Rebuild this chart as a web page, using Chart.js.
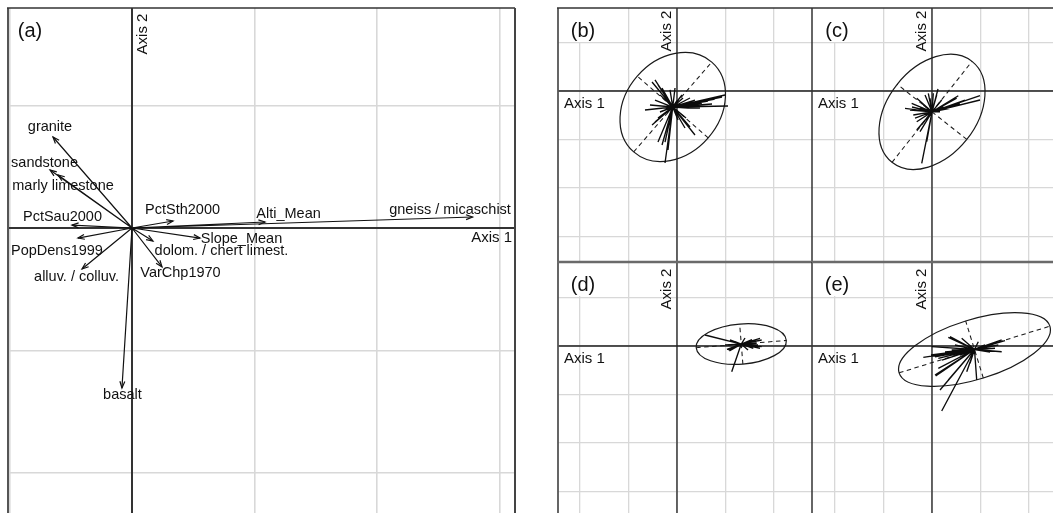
<!DOCTYPE html>
<html><head><meta charset="utf-8">
<script src="https://cdn.jsdelivr.net/npm/chart.js@4.4.1/dist/chart.umd.min.js"></script>
<style>
html,body{margin:0;padding:0;background:#fff;}
body{width:1053px;height:513px;position:relative;overflow:hidden;}
canvas{position:absolute;}
</style></head><body>
<canvas id="pa" width="525" height="513" style="left:0px;top:0px"></canvas>
<canvas id="pb" width="262" height="262" style="left:550px;top:0px"></canvas>
<canvas id="pc" width="249" height="262" style="left:804px;top:0px"></canvas>
<canvas id="pd" width="262" height="259" style="left:550px;top:254px"></canvas>
<canvas id="pe" width="249" height="259" style="left:804px;top:254px"></canvas>
<script>
// ---------- Panel (a): correlation circle arrows ----------
const arrowLabels = ["gneiss / micaschist","Alti_Mean","PctSth2000","Slope_Mean","dolom. / chert limest.","VarChp1970","basalt","alluv. / colluv.","PopDens1999","PctSau2000","marly limestone","sandstone","granite"];
const arrowX = [2.78, 1.086, 0.335, 0.555, 0.171, 0.245, -0.082, -0.408, -0.441, -0.49, -0.604, -0.669, -0.645];
const arrowY = [0.09, 0.049, 0.057, -0.082, -0.106, -0.318, -1.306, -0.335, -0.082, 0.024, 0.433, 0.473, 0.743];

// ---------- Panels (b)-(e): class stars ----------
const panelNames = ["(b)", "(c)", "(d)", "(e)"];
const classCX = [-0.088, 0.0, 1.325, 0.876];
const classCY = [-0.33, -0.43, 0.04, -0.072];
const ellipseA = [1.227, 1.328, 0.932, 1.627];
const ellipseB = [0.969, 0.916, 0.414, 0.616];
const ellipseAngle = [49, 51.6, 4.6, 17.2];

const starBX = [1.052,0.990,0.928,0.784,0.639,0.515,0.433,0.371,0.268,0.227,-0.247,-0.186,-0.309,-0.392,-0.247,0.371,0.268,0.165,-0.660,-0.515,-0.454,-0.392,-0.309,-0.247,0.124,0.103,-0.515,-0.454,-0.392,-0.454,-0.557,-0.351,0.021,-0.144,0.474,0.722,-0.144,-0.041,-0.350,0.186,-0.2,0.0,0.05,-0.2,0.1,-0.15];
const starBY = [-0.309,-0.082,-0.124,-0.165,-0.206,-0.247,-0.268,-0.186,-0.144,-0.351,-1.485,-1.216,-1.113,-1.052,-1.052,-0.907,-0.742,-0.763,-0.392,0.186,0.227,0.124,0.062,-0.082,-0.144,-0.082,-0.701,-0.639,-0.557,-0.186,-0.289,-0.433,-0.598,-0.701,-0.351,-0.268,0.021,0.062,-0.080,-0.557,-0.15,-0.2,-0.45,-0.45,-0.3,-0.25];

const starCX = [0.990,0.990,0.542,0.509,0.439,0.371,0.303,0.200,0.097,0.027,0.124,-0.076,-0.144,-0.315,-0.419,-0.557,-0.454,-0.386,-0.315,-0.282,-0.247,-0.315,-0.212,-0.109,0.165,0.233,0.371,-0.179,-0.247,-0.041,0.577,0.680,-0.412,-0.350];
const starCY = [-0.097,-0.186,-0.097,-0.150,-0.186,-0.221,-0.254,-0.186,-0.082,-0.047,0.041,-0.047,-0.082,-0.150,-0.254,-0.357,-0.392,-0.495,-0.633,-0.769,-0.839,-0.804,-1.491,-1.045,-0.427,-0.324,-0.357,-0.289,-0.357,-0.150,-0.268,-0.186,-0.330,-0.557];

const starDX = [0.577,1.128,1.711,1.746,1.746,1.711,1.643,1.093,1.058,1.155,1.196,1.505,1.573,1.402,1.464,0.990,1.670,1.546,1.03,1.08];
const starDY = [0.227,-0.530,0.159,0.124,-0.014,-0.047,0.056,0.124,-0.082,-0.041,0.089,0.089,-0.047,0.165,-0.082,0.021,0.021,0.134,-0.07,-0.10];

const starEX = [0.200,0.165,0.076,-0.179,-0.006,-0.021,0.062,0.130,0.130,0.062,0.371,0.336,0.268,0.922,0.955,1.437,1.505,1.437,1.367,1.299,0.612,0.577,0.406,0.784,0.716,0.336,0.474,1.093,1.196,0.206,0.268];
const starEY = [-1.340,-0.907,-0.619,-0.233,-0.014,-0.186,-0.221,-0.254,-0.460,-0.598,0.192,0.179,-0.392,-0.701,0.089,0.124,0.109,-0.118,0.021,-0.047,0.159,-0.186,-0.082,-0.357,-0.530,-0.701,0.021,0.021,-0.124,-0.289,-0.124];

const starXs = [starBX, starCX, starDX, starEX];
const starYs = [starBY, starCY, starDY, starEY];

// ---------- layout / style ----------
const FONT = '"Liberation Sans", Arial, Helvetica, sans-serif';
const INK = '#111';
// label offsets in px relative to arrow tip (layout only)
const labelOffsetPx = {
  "gneiss / micaschist":[-22.5,-7], "Alti_Mean":[23.5,-8], "PctSth2000":[9.5,-11],
  "Slope_Mean":[41.5,0.5], "dolom. / chert limest.":[68.5,10], "VarChp1970":[18.5,6],
  "basalt":[0.5,7.5], "alluv. / colluv.":[-5.5,8], "PopDens1999":[-21,13],
  "PctSau2000":[-9.5,-8.5], "marly limestone":[5,11], "sandstone":[-5.5,-7.5], "granite":[-3,-9.5]
};

function segData(cx, cy, xs, ys) {
  const d = [];
  xs.forEach((v, i) => { d.push({x: cx, y: cy}, {x: v, y: ys[i]}, {x: NaN, y: NaN}); });
  return d;
}

function makeScales(xr, yr, xt, yt, gw) {
  const mk = (r, t) => ({
    type: 'linear', min: r[0], max: r[1],
    afterBuildTicks: s => { s.ticks = t.map(v => ({value: v})); },
    ticks: {display: false}, border: {display: false},
    grid: {color: '#d8d8d8', lineWidth: gw, drawTicks: false}
  });
  return {x: mk(xr, xt), y: mk(yr, yt)};
}

function drawText(ctx, txt, x, y, font, align, rot) {
  ctx.save();
  ctx.font = font; ctx.fillStyle = INK; ctx.textAlign = align || 'center'; ctx.textBaseline = 'middle';
  ctx.translate(x, y);
  if (rot) ctx.rotate(rot);
  ctx.fillText(txt, 0, 0);
  ctx.restore();
}

function decoPlugin(cfg) {
  return {
    id: 'deco' + cfg.key,
    beforeDatasetsDraw(chart) {
      const {ctx, chartArea: ca, scales: {x, y}} = chart;
      const x0 = x.getPixelForValue(0), y0 = y.getPixelForValue(0);
      ctx.save();
      if (cfg.box) { ctx.fillStyle = '#fff'; ctx.fillRect(ca.left, ca.top, cfg.box[0], cfg.box[1]); }
      ctx.strokeStyle = cfg.axisColor; ctx.lineWidth = cfg.axisWidth;
      ctx.beginPath();
      ctx.moveTo(x0, ca.top); ctx.lineTo(x0, ca.bottom);
      ctx.moveTo(ca.left, y0); ctx.lineTo(ca.right, y0);
      ctx.stroke();
      cfg.borders.forEach(b => {
        ctx.strokeStyle = b.color; ctx.lineWidth = b.width;
        ctx.beginPath();
        if (b.side === 'left') { ctx.moveTo(ca.left, ca.top); ctx.lineTo(ca.left, ca.bottom); }
        if (b.side === 'right') { ctx.moveTo(ca.right, ca.top); ctx.lineTo(ca.right, ca.bottom); }
        if (b.side === 'top') { ctx.moveTo(ca.left - (b.ext||0), ca.top); ctx.lineTo(ca.right, ca.top); }
        ctx.stroke();
      });
      if (cfg.ell !== undefined) {
        const i = cfg.ell;
        const cx = classCX[i], cy = classCY[i], a = ellipseA[i], b = ellipseB[i];
        const th = ellipseAngle[i] * Math.PI / 180;
        const px = x.getPixelForValue(cx), py = y.getPixelForValue(cy);
        const rx = Math.abs(x.getPixelForValue(cx + a) - px);
        const ry = Math.abs(y.getPixelForValue(cy + b) - py);
        ctx.strokeStyle = '#1a1a1a'; ctx.lineWidth = 1.2;
        ctx.beginPath(); ctx.ellipse(px, py, rx, ry, -th, 0, Math.PI * 2); ctx.stroke();
        ctx.setLineDash([4.5, 3.5]); ctx.lineWidth = 1.05;
        ctx.beginPath();
        ctx.moveTo(x.getPixelForValue(cx - a*Math.cos(th)), y.getPixelForValue(cy - a*Math.sin(th)));
        ctx.lineTo(x.getPixelForValue(cx + a*Math.cos(th)), y.getPixelForValue(cy + a*Math.sin(th)));
        ctx.moveTo(x.getPixelForValue(cx + b*Math.sin(th)), y.getPixelForValue(cy - b*Math.cos(th)));
        ctx.lineTo(x.getPixelForValue(cx - b*Math.sin(th)), y.getPixelForValue(cy + b*Math.cos(th)));
        ctx.stroke();
        ctx.setLineDash([]);
      }
      ctx.restore();
    },
    afterDatasetsDraw(chart) {
      const {ctx, chartArea: ca, scales: {x, y}} = chart;
      const x0 = x.getPixelForValue(0), y0 = y.getPixelForValue(0);
      if (cfg.arrows) {
        ctx.save();
        ctx.strokeStyle = '#111'; ctx.lineWidth = 1.2;
        arrowX.forEach((vx, i) => {
          const tx = x.getPixelForValue(vx), ty = y.getPixelForValue(arrowY[i]);
          const ang = Math.atan2(ty - y0, tx - x0);
          const L = 7, w = 0.36;
          ctx.beginPath();
          ctx.moveTo(tx - L*Math.cos(ang - w), ty - L*Math.sin(ang - w));
          ctx.lineTo(tx, ty);
          ctx.lineTo(tx - L*Math.cos(ang + w), ty - L*Math.sin(ang + w));
          ctx.stroke();
          const off = labelOffsetPx[arrowLabels[i]];
          drawText(ctx, arrowLabels[i], tx + off[0], ty + off[1], '14.5px ' + FONT);
        });
        ctx.restore();
      }
      drawText(ctx, cfg.title, ca.left + cfg.titleOff[0], ca.top + cfg.titleOff[1], '20px ' + FONT);
      if (cfg.ax1Right) drawText(ctx, 'Axis 1', ca.right - 3, y0 + cfg.ax1dy, '15px ' + FONT, 'right');
      else drawText(ctx, 'Axis 1', ca.left + 6, y0 + cfg.ax1dy, '15px ' + FONT, 'left');
      drawText(ctx, 'Axis 2', x0 + cfg.ax2dx, ca.top + cfg.ax2dy, '15px ' + FONT, 'center', -Math.PI/2);
    }
  };
}

const common = {
  responsive: false, animation: false, events: [],
  plugins: {legend: {display: false}, tooltip: {enabled: false}}
};

// Panel (a)
new Chart(document.getElementById('pa'), {
  type: 'scatter',
  data: {datasets: [{
    data: segData(0, 0, arrowX, arrowY),
    showLine: true, spanGaps: false, borderColor: '#111', borderWidth: 1.2, pointRadius: 0
  }]},
  options: Object.assign({}, common, {
    layout: {padding: {left: 8, top: 8, right: 10, bottom: 0}},
    scales: makeScales([-1.0122, 3.1265], [-2.3265, 1.7959], [-1, 0, 1, 2, 3], [1, 0, -1, -2], 1.6)
  }),
  plugins: [decoPlugin({key: 'a', title: '(a)', titleOff: [22, 23.5], axisColor: '#333', axisWidth: 2,
    borders: [{side: 'left', color: '#555', width: 2}, {side: 'top', color: '#333', width: 1.5, ext: 1}, {side: 'right', color: '#444', width: 2}],
    arrows: true, ax1Right: true, ax1dy: 9.5, ax2dx: 11, ax2dy: 26})]
});

// Panels (b)-(e)
const subCfg = [
  {id: 'pb', xr: [-2.4536, 2.7835], yr: [-3.5258, 1.7113], borders: [{side:'left', color:'#555', width:1.8}, {side:'top', color:'#333', width:1.5, ext:1}], ax2dy: 23},
  {id: 'pc', xr: [-2.4742, 2.4948], yr: [-3.5258, 1.7113], borders: [{side:'left', color:'#333', width:1.5}, {side:'top', color:'#333', width:1.5}], ax2dy: 23},
  {id: 'pd', xr: [-2.4536, 2.7835], yr: [-3.4433, 1.7320], borders: [{side:'left', color:'#555', width:1.8}, {side:'top', color:'#6a6a6a', width:2.6, ext:1}], ax2dy: 27},
  {id: 'pe', xr: [-2.4742, 2.4948], yr: [-3.4433, 1.7320], borders: [{side:'left', color:'#333', width:1.5}, {side:'top', color:'#6a6a6a', width:2.6}], ax2dy: 27}
];
subCfg.forEach((c, i) => {
  new Chart(document.getElementById(c.id), {
    type: 'scatter',
    data: {datasets: [{
      data: segData(classCX[i], classCY[i], starXs[i], starYs[i]),
      showLine: true, spanGaps: false, borderColor: '#0c0c0c', borderWidth: 1.35, pointRadius: 0
    }]},
    options: Object.assign({}, common, {
      layout: {padding: {left: 8, top: 8, right: 0, bottom: 0}},
      scales: makeScales(c.xr, c.yr, [-2, -1, 0, 1, 2], [1, 0, -1, -2, -3], 1.3)
    }),
    plugins: [decoPlugin({key: c.id, title: panelNames[i], titleOff: [25, 23], box: [60, 34],
      axisColor: '#1e1e1e', axisWidth: 1.3, borders: c.borders, ell: i,
      ax1Right: false, ax1dy: 12.5, ax2dx: -10, ax2dy: c.ax2dy})]
  });
});
</script>
</body></html>
